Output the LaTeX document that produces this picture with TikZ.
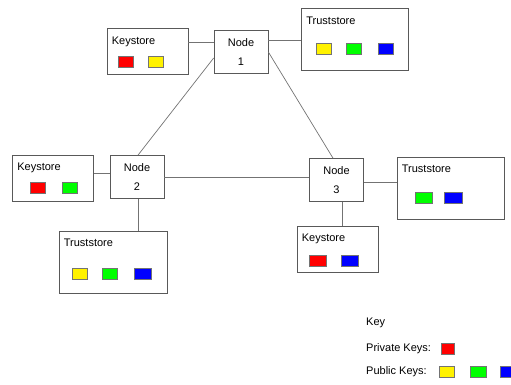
\documentclass[tikz,border=0pt]{standalone}
\usepackage{fontspec}
\setmainfont{Liberation Sans}
\usepackage{xcolor}
\usetikzlibrary{positioning}

\tikzset{
  box/.style={draw=black!65,line width=0.7pt,rectangle,inner sep=0pt},
  peer/.style={box,minimum width=54,minimum height=43,align=center,
    font=\fontsize{11}{19}\selectfont},
  store/.style={box,minimum width=81,minimum height=46},
  trust/.style={box,minimum width=107,minimum height=62},
  lbl/.style={anchor=west,inner sep=2pt,font=\fontsize{11}{12}\selectfont},
  sq/.style={draw=black!55,line width=0.4pt,minimum width=15,minimum height=11,inner sep=0pt},
  link/.style={draw=black!55,line width=0.7pt}
}

\begin{document}
\begin{tikzpicture}[x=1pt,y=-1pt]
  \useasboundingbox (0,0) rectangle (511,385);

  % the three nodes
  \node[peer] (n1) at (241,52) {Node\\1};
  \node[peer] (n2) at (137,177) {Node\\2};
  \node[peer] (n3) at (336.5,180) {Node\\3};

  % stores of node 1
  \node[store] (ks1) at (147.5,51) {};
  \node[lbl] at ([xshift=3,yshift=-14]ks1.north west) {Keystore};
  \node[sq,fill=red] (ks1a) at (125.5,62) {};
  \node[sq,fill=yellow] (ks1b) at (155.5,62) {};
  \node[trust] (ts1) at (355,39) {};
  \node[lbl] at ([xshift=3,yshift=-13]ts1.north west) {Truststore};
  \node[sq,fill=yellow] (ts1a) at (323.5,49) {};
  \node[sq,fill=green] (ts1b) at (354,49) {};
  \node[sq,fill=blue] (ts1c) at (385.5,49) {};

  % stores of node 2
  \node[store] (ks2) at (53,178.5) {};
  \node[lbl] at ([xshift=3,yshift=-13]ks2.north west) {Keystore};
  \node[sq,fill=red] (ks2a) at (37.5,188) {};
  \node[sq,fill=green] (ks2b) at (70,188) {};
  \node[trust,minimum width=108] (ts2) at (113,262.5) {};
  \node[lbl] at ([xshift=3,yshift=-12]ts2.north west) {Truststore};
  \node[sq,fill=yellow] (ts2a) at (80,274) {};
  \node[sq,fill=green] (ts2b) at (109.5,274) {};
  \node[sq,fill=blue,minimum width=17] (ts2c) at (143,274) {};

  % stores of node 3
  \node[trust] (ts3) at (450.5,188) {};
  \node[lbl] at ([xshift=3,yshift=-12]ts3.north west) {Truststore};
  \node[sq,fill=green,minimum width=17] (ts3a) at (423.5,198) {};
  \node[sq,fill=blue,minimum width=18] (ts3b) at (453.5,198) {};
  \node[store] (ks3) at (337.5,249) {};
  \node[lbl] at ([xshift=3,yshift=-13]ks3.north west) {Keystore};
  \node[sq,fill=red,minimum width=17] (ks3a) at (317.5,260.5) {};
  \node[sq,fill=blue,minimum width=17] (ks3b) at (349.5,260.5) {};

  % connections
  \draw[link] ([yshift=9]ks1.east) -- ([yshift=9]ks1.east -| n1.west);
  \draw[link] ([yshift=12]n1.east) -- ([yshift=12]n1.east -| ts1.west);
  \draw[link] ([yshift=-6]n1.west) -- ([xshift=1]n2.north);
  \draw[link] (n1.east) -- ([xshift=-3.5]n3.north);
  \draw[link] ([yshift=4]n2.west) -- ([yshift=4]n2.west -| ks2.east);
  \draw[link] (n2.east) -- (n2.east -| n3.west);
  \draw[link] ([xshift=1]n2.south) -- ([xshift=1]n2.south |- ts2.north);
  \draw[link] ([yshift=-2]n3.east) -- ([yshift=-2]n3.east -| ts3.west);
  \draw[link] ([xshift=5.5]n3.south) -- ([xshift=5.5]n3.south |- ks3.north);

  % key
  \node[lbl] (key) at (364,323) {Key};
  \node[lbl] (priv) at (364,349) {Private Keys:};
  \node[lbl] (pub) at (364,372) {Public Keys:};
  \node[sq,fill=red,minimum width=13] (kr) at (447.5,349) {};
  \node[sq,fill=yellow,minimum width=15] (ky) at (446.5,372) {};
  \node[sq,fill=green,minimum width=16] (kg) at (478,372) {};
  \node[sq,fill=blue,minimum width=16] (kb) at (508,372) {};
\end{tikzpicture}
\end{document}
